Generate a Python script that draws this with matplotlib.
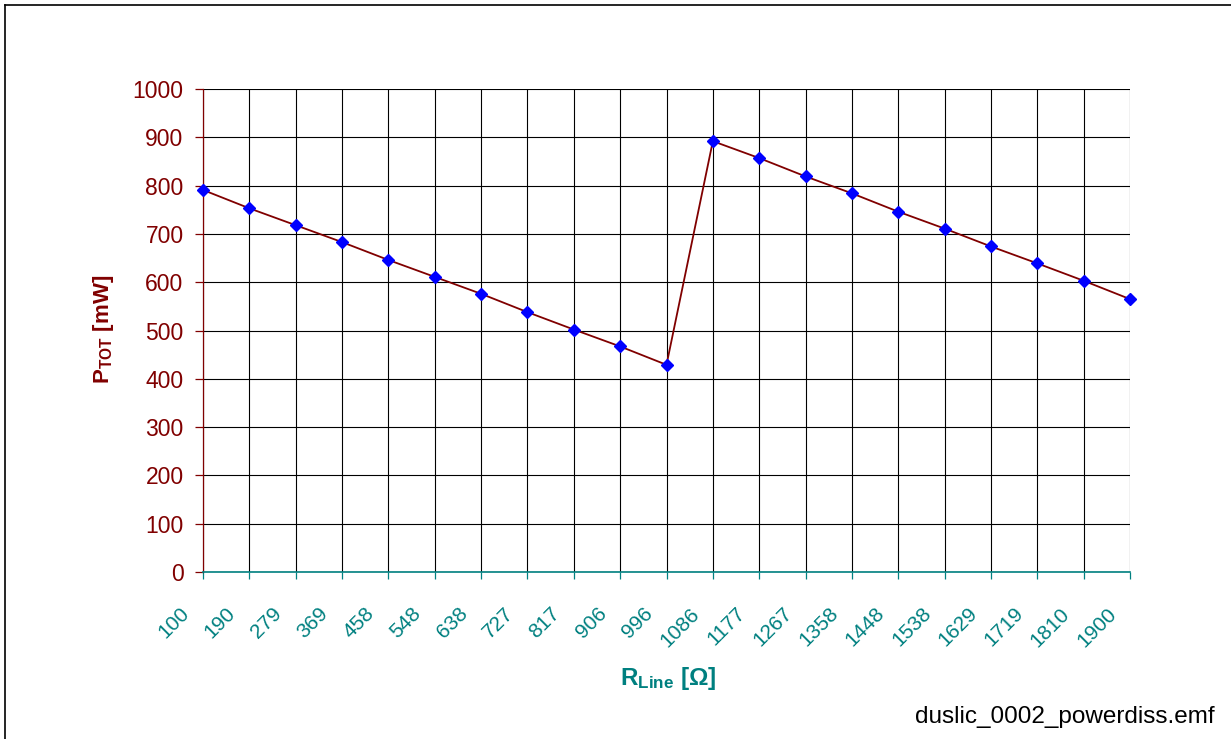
import matplotlib
matplotlib.use("Agg")
import matplotlib.pyplot as plt
import matplotlib.transforms as mtransforms
from matplotlib.lines import Line2D

plt.rcParams['font.family'] = ['Liberation Sans', 'DejaVu Sans']
plt.rcParams['mathtext.fontset'] = 'custom'
plt.rcParams['mathtext.rm'] = 'Liberation Sans'
plt.rcParams['mathtext.bf'] = 'Liberation Sans:bold'

# Data
r_line = ["100", "190", "279", "369", "458", "548", "638", "727", "817", "906", "996",
          "1086", "1177", "1267", "1358", "1448", "1538", "1629", "1719", "1810", "1900"]
p_tot = [791, 753, 718, 683, 646, 611, 576, 538, 502, 467, 429,
         892, 857, 819, 784, 746, 711, 674, 639, 603, 565]
y_ticks = list(range(0, 1001, 100))

W, H = 1231, 739
DARKRED = '#800000'
TEAL = '#008080'

fig = plt.figure(figsize=(W / 100, H / 100), dpi=100)
fig.patch.set_facecolor('white')
ax = fig.add_axes([203 / W, 1 - 572 / H, (1130 - 203) / W, (572 - 89) / H])

x = list(range(len(r_line)))
ax.plot(x, p_tot, color=DARKRED, lw=1.3, marker='D', markersize=6.4,
        markerfacecolor='#0000FF', markeredgecolor='#0000FF', zorder=3, clip_on=False)

ax.set_xlim(0, len(r_line) - 1)
ax.set_ylim(0, 1000)
ax.set_xticks(x)
ax.set_xticklabels(r_line)
ax.set_yticks(y_ticks)
ax.set_yticklabels([str(v) for v in y_ticks])

ax.grid(True, color='black', lw=0.8, zorder=1)
ax.set_axisbelow(True)

for s in ['top', 'right']:
    ax.spines[s].set_visible(False)
ax.spines['left'].set_color(DARKRED)
ax.spines['left'].set_linewidth(0.9)
ax.spines['bottom'].set_color(TEAL)
ax.spines['bottom'].set_linewidth(1.2)
ax.spines['bottom'].set_zorder(2.5)

ax.tick_params(axis='y', colors=DARKRED, labelsize=16.5, length=6, width=0.9, pad=8)
ax.tick_params(axis='x', colors=TEAL, labelsize=15, length=5, width=0.9, pad=18)

offset = mtransforms.ScaledTranslation(-10 / 100, 0, fig.dpi_scale_trans)
for lab in ax.get_xticklabels():
    lab.set_rotation(45)
    lab.set_ha('right')
    lab.set_va('top')
    lab.set_transform(lab.get_transform() + offset)

# Axis titles
fig.text(103 / W, 1 - 329 / H, r'$\mathbf{P_{TOT}}$ [mW]', rotation=90, color=DARKRED,
         fontsize=16, fontweight='bold', ha='center', va='center')
fig.text(668 / W, 1 - 678 / H, r'$\mathbf{R_{Line}}$ [Ω]', color=TEAL,
         fontsize=17.5, fontweight='bold', ha='center', va='center')

# Footer
fig.text(1215 / W, 1 - 717 / H, 'duslic_0002_powerdiss.emf', color='black',
         fontsize=17.5, ha='right', va='center')

# Frame lines (top and left)
fig.add_artist(Line2D([5 / W, 1.0], [1 - 5 / H, 1 - 5 / H], transform=fig.transFigure,
                      color='black', lw=1.2))
fig.add_artist(Line2D([5 / W, 5 / W], [0.0, 1 - 5 / H], transform=fig.transFigure,
                      color='black', lw=1.2))

fig.savefig('out.png', dpi=100, facecolor='white')
